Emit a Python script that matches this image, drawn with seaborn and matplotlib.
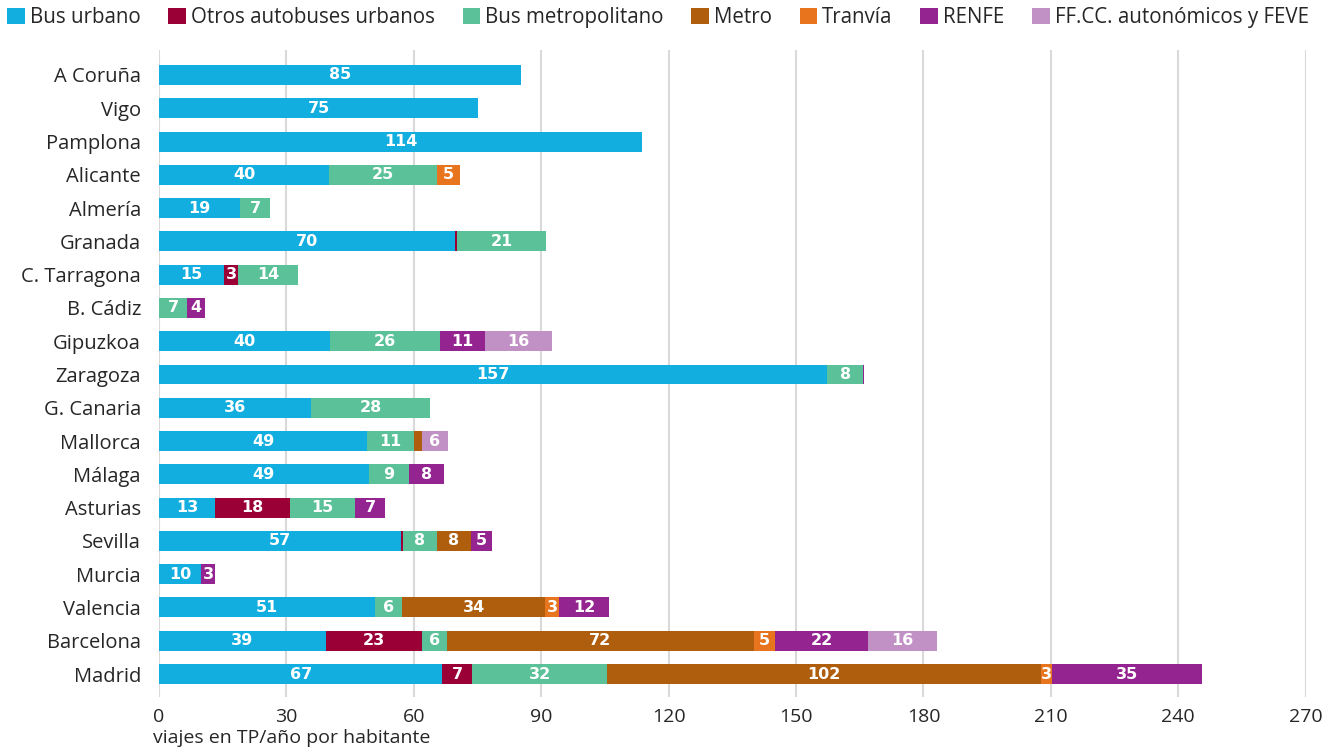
import numpy as np
import pandas as pd
import matplotlib
matplotlib.use("Agg")
import matplotlib.pyplot as plt
from matplotlib.patches import Patch
import seaborn as sns

# Viajes en transporte público por habitante y año, por área y modo
categories = ["A Coruña", "Vigo", "Pamplona", "Alicante", "Almería", "Granada",
              "C. Tarragona", "B. Cádiz", "Gipuzkoa", "Zaragoza", "G. Canaria",
              "Mallorca", "Málaga", "Asturias", "Sevilla", "Murcia", "Valencia",
              "Barcelona", "Madrid"]

bus_urbano    = [85.3, 75.2, 113.8, 40.1, 19.1, 69.7, 15.3, 0.0, 40.3, 157.4,
                 35.8, 49.0, 49.4, 13.2, 57.0, 9.9, 50.9, 39.3, 66.7]
otros_bus     = [0, 0, 0, 0, 0, 0.5, 3.3, 0, 0, 0,
                 0, 0, 0, 17.7, 0.5, 0, 0, 22.6, 7.1]
bus_metro     = [0, 0, 0, 25.4, 7.1, 21.0, 14.2, 6.6, 25.9, 8.3,
                 28.0, 11.0, 9.4, 15.3, 7.9, 0, 6.4, 5.9, 31.6]
metro         = [0, 0, 0, 0, 0, 0, 0, 0, 0, 0,
                 0, 2.0, 0, 0, 8.1, 0, 33.7, 72.3, 102.2]
tranvia       = [0, 0, 0, 5.4, 0, 0, 0, 0, 0, 0,
                 0, 0, 0, 0, 0, 0, 3.3, 4.9, 2.6]
renfe         = [0, 0, 0, 0, 0, 0, 0, 4.2, 10.6, 0.4,
                 0, 0, 8.4, 7.1, 4.9, 3.4, 11.6, 22.0, 35.3]
ffcc          = [0, 0, 0, 0, 0, 0, 0, 0, 15.8, 0,
                 0, 6.0, 0, 0, 0, 0, 0, 16.2, 0]

series_names = ["Bus urbano", "Otros autobuses urbanos", "Bus metropolitano",
                "Metro", "Tranvía", "RENFE", "FF.CC. autonómicos y FEVE"]
series_values = [bus_urbano, otros_bus, bus_metro, metro, tranvia, renfe, ffcc]
series_colors = ["#12AEDF", "#9A0036", "#5BC199", "#AF5E0E",
                 "#E8741E", "#942590", "#C190C4"]

x_ticks = [0, 30, 60, 90, 120, 150, 180, 210, 240, 270]
x_label = "viajes en TP/año por habitante"

sns.set_theme(style="whitegrid")
plt.rcParams["font.family"] = ["Open Sans", "DejaVu Sans"]

vals = np.array(series_values, dtype=float)
cum = np.cumsum(vals, axis=0)

fig = plt.figure(figsize=(13.4, 7.52), dpi=100)
ax = fig.add_axes([159 / 1340, 1 - 697 / 752, (1305.7 - 159) / 1340, (697 - 50) / 752])

# Stacked bars: draw cumulative totals from the last series to the first
for i in range(len(series_names) - 1, -1, -1):
    df = pd.DataFrame({"area": categories, "valor": cum[i]})
    sns.barplot(data=df, y="area", x="valor", orient="h", color=series_colors[i],
                width=0.6, linewidth=0, saturation=1, ax=ax, zorder=3)

# Segment values
for i in range(len(series_names)):
    for j, v in enumerate(vals[i]):
        if v >= 2.5:
            center = cum[i][j] - v / 2
            ax.text(center, j, f"{v:.0f}", ha="center", va="center", color="white",
                    fontsize=11.5, fontweight="bold", family=["DejaVu Sans"], zorder=5)

ax.set_xlim(0, 270)
ax.set_ylim(18.69, -0.75)
ax.set_xticks(x_ticks)
ax.set_xticklabels([str(t) for t in x_ticks])
ax.grid(axis="x", color="#d9d9d9", linewidth=1.5)
ax.grid(axis="y", visible=False)
for s in ax.spines.values():
    s.set_visible(False)
ax.tick_params(axis="y", length=0, pad=13, labelsize=14.5, labelcolor="#262626")
ax.tick_params(axis="x", length=0, pad=8, labelsize=14, labelcolor="#262626")
ax.set_ylabel("")
ax.set_xlabel(x_label, fontsize=14, color="#262626", ha="left")
ax.xaxis.set_label_coords(-6 / 1146.7, -0.05)
ax.xaxis.label.set_va("top")

handles = [Patch(facecolor=c, edgecolor="none") for c in series_colors]
fig.legend(handles, series_names, loc="upper left", bbox_to_anchor=(0.0, 1.0),
           ncol=7, frameon=False, handlelength=0.85, handleheight=0.85,
           handletextpad=0.25, columnspacing=1.35, borderaxespad=0.0, borderpad=0.35,
           prop={"family": ["Open Sans", "DejaVu Sans"], "size": 14.8})

fig.savefig("out.png", dpi=100, facecolor="white")
